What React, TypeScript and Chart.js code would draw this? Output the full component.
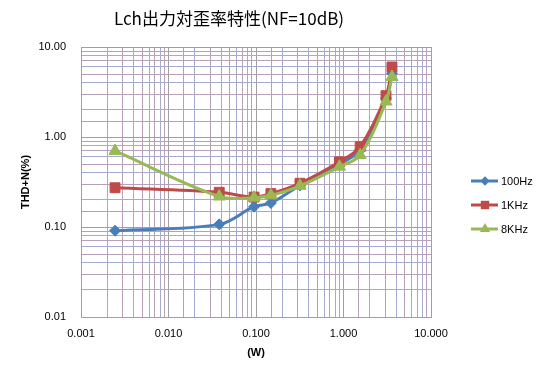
import React, { useEffect, useRef } from "react";
import { Chart, registerables } from "chart.js";

Chart.register(...registerables);

const TITLE = "Lch出力対歪率特性(NF=10dB)";
const X_TITLE = "(W)";
const Y_TITLE = "THD+N(%)";

const powerW = [0.00245, 0.038, 0.095, 0.148, 0.318, 0.9, 1.55, 3.06, 3.58];
const thd100Hz = [0.091, 0.107, 0.168, 0.185, 0.29, 0.5, 0.72, 2.7, 5.1];
const thd1KHz = [0.273, 0.243, 0.215, 0.235, 0.306, 0.53, 0.78, 2.88, 6.0];
const thd8KHz = [0.7, 0.218, 0.212, 0.225, 0.287, 0.468, 0.63, 2.48, 4.65];

const seriesNames = ["100Hz", "1KHz", "8KHz"];
const seriesColors = ["#4a7ebb", "#be4b48", "#98b954"];
const seriesMarkers = ["rectRot", "rect", "triangle"];
const markerSizes = [5.5, 7, 7];

const isDecade = (v: number) => {
  const l = Math.log10(v);
  return Math.abs(l - Math.round(l)) < 1e-6;
};

const gridColor = (ctx: any) => {
  const v = ctx.tick ? ctx.tick.value : 1;
  if (isDecade(v)) return "#a0a0a0";
  return ctx.index % 2 ? "#a4aad0" : "#b8a0b8";
};

export default function App() {
  const ref = useRef<HTMLCanvasElement>(null);

  useEffect(() => {
    document.body.style.margin = "0";
    const canvas = ref.current!;
    const toPts = (ys: number[]) => powerW.map((x, i) => ({ x, y: ys[i] }));
    const all = [thd100Hz, thd1KHz, thd8KHz];

    function drawMarker(c: CanvasRenderingContext2D, style: string, r: number, x: number, y: number) {
      c.beginPath();
      if (style === "rectRot") {
        c.moveTo(x - r, y);
        c.lineTo(x, y - r);
        c.lineTo(x + r, y);
        c.lineTo(x, y + r);
      } else if (style === "rect") {
        const s = r * Math.SQRT1_2;
        c.rect(x - s, y - s, 2 * s, 2 * s);
      } else {
        const h = r * 1.5;
        const w = r * Math.sin(Math.PI / 3);
        c.moveTo(x, y - r);
        c.lineTo(x + w, y + h - r);
        c.lineTo(x - w, y + h - r);
      }
      c.closePath();
      c.fill();
    }

    const overlay = {
      id: "overlay",
      afterDraw(chart: any) {
        const c = chart.ctx;
        c.save();
        c.fillStyle = "#000";
        c.font = '17px "Noto Sans CJK JP", "Liberation Sans", sans-serif';
        c.textAlign = "center";
        c.textBaseline = "middle";
        c.fillText(TITLE, 229, 19);
        c.font = '11px "Liberation Sans", Arial, sans-serif';
        c.textAlign = "left";
        for (let i = 0; i < 3; i++) {
          const y = 181 + i * 24;
          c.strokeStyle = seriesColors[i];
          c.lineWidth = 3;
          c.beginPath();
          c.moveTo(471, y);
          c.lineTo(498, y);
          c.stroke();
          c.fillStyle = seriesColors[i];
          drawMarker(c, seriesMarkers[i], markerSizes[i] * 0.85, 485, y);
          c.fillStyle = "#000";
          c.fillText(seriesNames[i], 501, y + 1);
        }
        c.restore();
      },
    };

    const chart = new Chart(canvas, {
      type: "line",
      data: {
        datasets: all.map((ys, i) => ({
          label: seriesNames[i],
          data: toPts(ys),
          borderColor: seriesColors[i],
          backgroundColor: seriesColors[i],
          borderWidth: 3,
          pointStyle: seriesMarkers[i] as any,
          pointRadius: markerSizes[i],
          pointBorderWidth: 1,
          pointBorderColor: seriesColors[i],
          pointBackgroundColor: seriesColors[i],
          tension: 0.35,
          order: 3 - i,
          fill: false,
        })),
      },
      options: {
        responsive: false,
        animation: false,
        layout: { padding: { left: 0, top: 47, right: 112, bottom: 0 } },
        plugins: {
          legend: { display: false },
          title: { display: false },
          tooltip: { enabled: false },
        },
        scales: {
          x: {
            type: "logarithmic",
            min: 0.001,
            max: 10,
            afterFit: (s: any) => {
              s.height = 55;
            },
            border: { color: "#a0a0a0", width: 1 },
            grid: { color: gridColor, drawTicks: false, lineWidth: 1 },
            ticks: {
              autoSkip: false,
              maxRotation: 0,
              padding: 10,
              color: "#000",
              font: { family: '"Liberation Sans", Arial, sans-serif', size: 11 },
              callback: (v: any) => (isDecade(Number(v)) ? Number(v).toFixed(3) : ""),
            },
            title: {
              display: true,
              text: X_TITLE,
              color: "#000",
              font: { family: '"Liberation Sans", Arial, sans-serif', size: 11, weight: "bold" },
              padding: { top: 0, bottom: 12 },
            },
          },
          y: {
            type: "logarithmic",
            min: 0.01,
            max: 10,
            afterFit: (s: any) => {
              s.width = 81;
            },
            border: { color: "#a0a0a0", width: 1 },
            grid: { color: gridColor, drawTicks: false, lineWidth: 1 },
            ticks: {
              autoSkip: false,
              padding: 15,
              color: "#000",
              font: { family: '"Liberation Sans", Arial, sans-serif', size: 11 },
              callback: (v: any) => (isDecade(Number(v)) ? Number(v).toFixed(2) : ""),
            },
            title: {
              display: true,
              text: Y_TITLE,
              color: "#000",
              font: { family: '"Liberation Sans", Arial, sans-serif', size: 11, weight: "bold" },
              padding: { top: 19, bottom: 0 },
            },
          },
        },
      },
      plugins: [overlay],
    } as any);

    return () => chart.destroy();
  }, []);

  return <canvas ref={ref} width={543} height={372} style={{ display: "block" }} />;
}
